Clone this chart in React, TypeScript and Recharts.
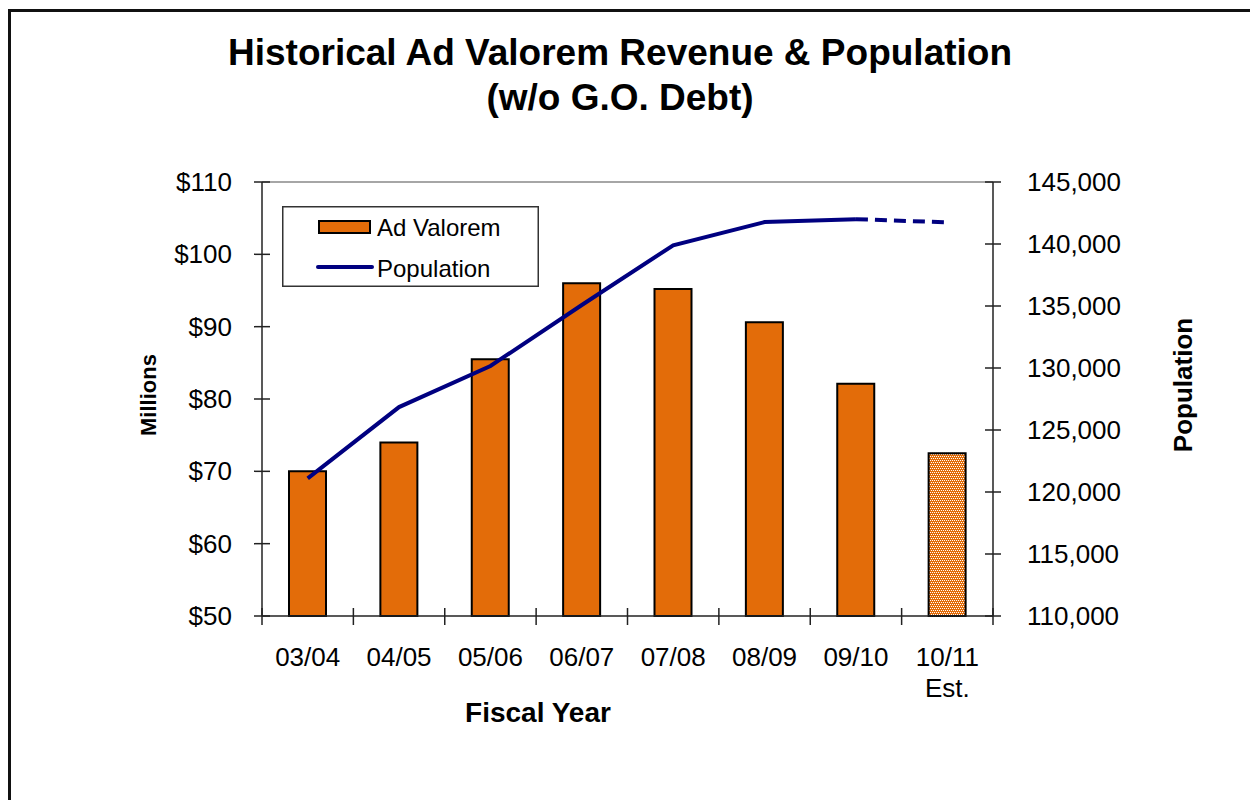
import React from 'react';
import { ComposedChart, Bar, Line, XAxis, YAxis, Legend, Cell, ReferenceLine } from 'recharts';

const categories = ['03/04', '04/05', '05/06', '06/07', '07/08', '08/09', '09/10', '10/11'];
const categorySubLabels = ['', '', '', '', '', '', '', 'Est.'];
const isEstimate = [false, false, false, false, false, false, false, true];
const adValorem = [70, 74, 85.5, 96, 95.2, 90.6, 82.1, 72.5];
const population = [121100, 126850, 130160, 135080, 139900, 141770, 142000, null];
const populationEst = [null, null, null, null, null, null, 142000, 141750];
const leftTicks = [50, 60, 70, 80, 90, 100, 110];
const rightTicks = [110000, 115000, 120000, 125000, 130000, 135000, 140000, 145000];
const seriesNames = ['Ad Valorem', 'Population'];
const titleLines = ['Historical Ad Valorem Revenue & Population', '(w/o G.O. Debt)'];

const ORANGE = '#E36C09';
const NAVY = '#000080';
const FONT = 'Liberation Sans, Arial, sans-serif';

const data = categories.map((c, i) => ({
  category: c,
  sub: categorySubLabels[i],
  adValorem: adValorem[i],
  population: population[i],
  populationEst: populationEst[i],
}));

const LeftTick = (props: any) => {
  const { x, y, payload } = props;
  return (
    <g>
      <line x1={x - 8} x2={x + 8} y1={y} y2={y} stroke="#222" strokeWidth={1.5} />
      <text x={x - 30} y={y} textAnchor="end" dominantBaseline="central" fontSize={26} fontFamily={FONT} fill="#000">
        {'$' + payload.value}
      </text>
    </g>
  );
};

const RightTick = (props: any) => {
  const { x, y, payload } = props;
  return (
    <g>
      <line x1={x - 8} x2={x + 8} y1={y} y2={y} stroke="#222" strokeWidth={1.5} />
      <text x={x + 34} y={y} textAnchor="start" dominantBaseline="central" fontSize={26} fontFamily={FONT} fill="#000">
        {Number(payload.value).toLocaleString('en-US')}
      </text>
    </g>
  );
};

const XTick = (props: any) => {
  const { x, y, payload, index, width, visibleTicksCount } = props;
  const half =
    payload && typeof payload.offset === 'number' && payload.offset > 0
      ? payload.offset
      : width / visibleTicksCount / 2;
  const sub = categorySubLabels[index];
  const last = index === visibleTicksCount - 1;
  return (
    <g>
      <line x1={x - half} x2={x - half} y1={y - 8} y2={y + 9} stroke="#222" strokeWidth={1.5} />
      {last && <line x1={x + half} x2={x + half} y1={y - 8} y2={y + 9} stroke="#222" strokeWidth={1.5} />}
      <text x={x} y={y + 41} textAnchor="middle" dominantBaseline="central" fontSize={26} fontFamily={FONT} fill="#000">
        {payload.value}
      </text>
      {sub && (
        <text x={x} y={y + 72} textAnchor="middle" dominantBaseline="central" fontSize={26} fontFamily={FONT} fill="#000">
          {sub}
        </text>
      )}
    </g>
  );
};

const LegendBox = () => (
  <svg width={257} height={81} style={{ display: 'block' }}>
    <rect x={0.75} y={0.75} width={255.5} height={79.5} fill="#fff" stroke="#333" strokeWidth={1.5} />
    <rect x={37} y={15} width={51} height={12} fill={ORANGE} stroke="#000" strokeWidth={2} />
    <text x={95} y={21} dominantBaseline="central" fontSize={24} fontFamily={FONT} fill="#000">
      {seriesNames[0]}
    </text>
    <line x1={36} x2={90} y1={61} y2={61} stroke={NAVY} strokeWidth={4} strokeLinecap="round" />
    <text x={95} y={62} dominantBaseline="central" fontSize={24} fontFamily={FONT} fill="#000">
      {seriesNames[1]}
    </text>
  </svg>
);

export default function App() {
  return (
    <div style={{ position: 'relative', width: 1250, height: 792, overflow: 'hidden', background: '#fff' }}>
      <style>{`body{overflow:hidden;background:#fff}`}</style>
      <div
        style={{
          position: 'absolute',
          left: 0,
          top: 1,
          width: 1250,
          height: 900,
          boxSizing: 'border-box',
          border: '3px solid #111',
          pointerEvents: 'none',
          zIndex: 2,
        }}
      />
      <ComposedChart
        width={1250}
        height={800}
        data={data}
        margin={{ top: 174, right: 165, bottom: 132, left: 154 }}
        barCategoryGap={0}
      >
        <defs>
          <pattern id="estChecker" x={0} y={0} width={4} height={4} patternUnits="userSpaceOnUse">
            <rect x={0} y={0} width={4} height={4} fill={ORANGE} />
            <rect x={0} y={0} width={1} height={1} fill="#ffffff" />
            <rect x={2} y={0} width={1} height={1} fill="#ffffff" />
            <rect x={1} y={2} width={1} height={1} fill="#ffffff" />
            <rect x={3} y={2} width={1} height={1} fill="#ffffff" />
          </pattern>
        </defs>
        <text x={612} y={44} textAnchor="middle" dominantBaseline="central" fontSize={37} fontWeight="bold" fontFamily={FONT} fill="#000">
          {titleLines[0]}
        </text>
        <text x={612} y={89} textAnchor="middle" dominantBaseline="central" fontSize={37} fontWeight="bold" fontFamily={FONT} fill="#000">
          {titleLines[1]}
        </text>
        <text x={530} y={704} textAnchor="middle" dominantBaseline="central" fontSize={28} fontWeight="bold" fontFamily={FONT} fill="#000">
          Fiscal Year
        </text>
        <text x={140} y={387} textAnchor="middle" dominantBaseline="central" fontSize={22} fontWeight="bold" fontFamily={FONT} fill="#000" transform="rotate(-90 140 387)">
          Millions
        </text>
        <text x={1175} y={377} textAnchor="middle" dominantBaseline="central" fontSize={26} fontWeight="bold" fontFamily={FONT} fill="#000" transform="rotate(-90 1175 377)">
          Population
        </text>
        <XAxis
          dataKey="category"
          xAxisId="x"
          height={60}
          interval={0}
          tickLine={false}
          tickSize={0}
          tickMargin={0}
          axisLine={{ stroke: '#222', strokeWidth: 1.5 }}
          tick={<XTick />}
        />
        <YAxis
          yAxisId="left"
          orientation="left"
          width={100}
          domain={[50, 110]}
          ticks={leftTicks}
          interval={0}
          tickLine={false}
          tickSize={0}
          tickMargin={0}
          axisLine={{ stroke: '#222', strokeWidth: 1.5 }}
          tick={<LeftTick />}
        />
        <YAxis
          yAxisId="right"
          orientation="right"
          width={100}
          domain={[110000, 145000]}
          ticks={rightTicks}
          interval={0}
          tickLine={false}
          tickSize={0}
          tickMargin={0}
          axisLine={{ stroke: '#222', strokeWidth: 1.5 }}
          tick={<RightTick />}
        />
        <ReferenceLine xAxisId="x" yAxisId="left" y={110} stroke="#888" strokeWidth={1.5} />
        <Legend
          layout="vertical"
          align="center"
          verticalAlign="middle"
          wrapperStyle={{ position: 'absolute', left: 274, top: 198, width: 257, height: 81 }}
          content={() => <LegendBox />}
        />
        <Bar
          xAxisId="x"
          yAxisId="left"
          dataKey="adValorem"
          name={seriesNames[0]}
          barSize={37}
          stroke="#000"
          strokeWidth={2}
          isAnimationActive={false}
        >
          {data.map((d, i) => (
            <Cell key={d.category} fill={isEstimate[i] ? 'url(#estChecker)' : ORANGE} />
          ))}
        </Bar>
        <Line
          xAxisId="x"
          yAxisId="right"
          type="linear"
          dataKey="population"
          name={seriesNames[1]}
          stroke={NAVY}
          strokeWidth={4}
          dot={false}
          activeDot={false}
          connectNulls={false}
          isAnimationActive={false}
        />
        <Line
          xAxisId="x"
          yAxisId="right"
          type="linear"
          dataKey="populationEst"
          name="Population (Est.)"
          stroke={NAVY}
          strokeWidth={4}
          strokeDasharray="12 7"
          dot={false}
          activeDot={false}
          connectNulls={false}
          legendType="none"
          isAnimationActive={false}
        />
      </ComposedChart>
    </div>
  );
}
